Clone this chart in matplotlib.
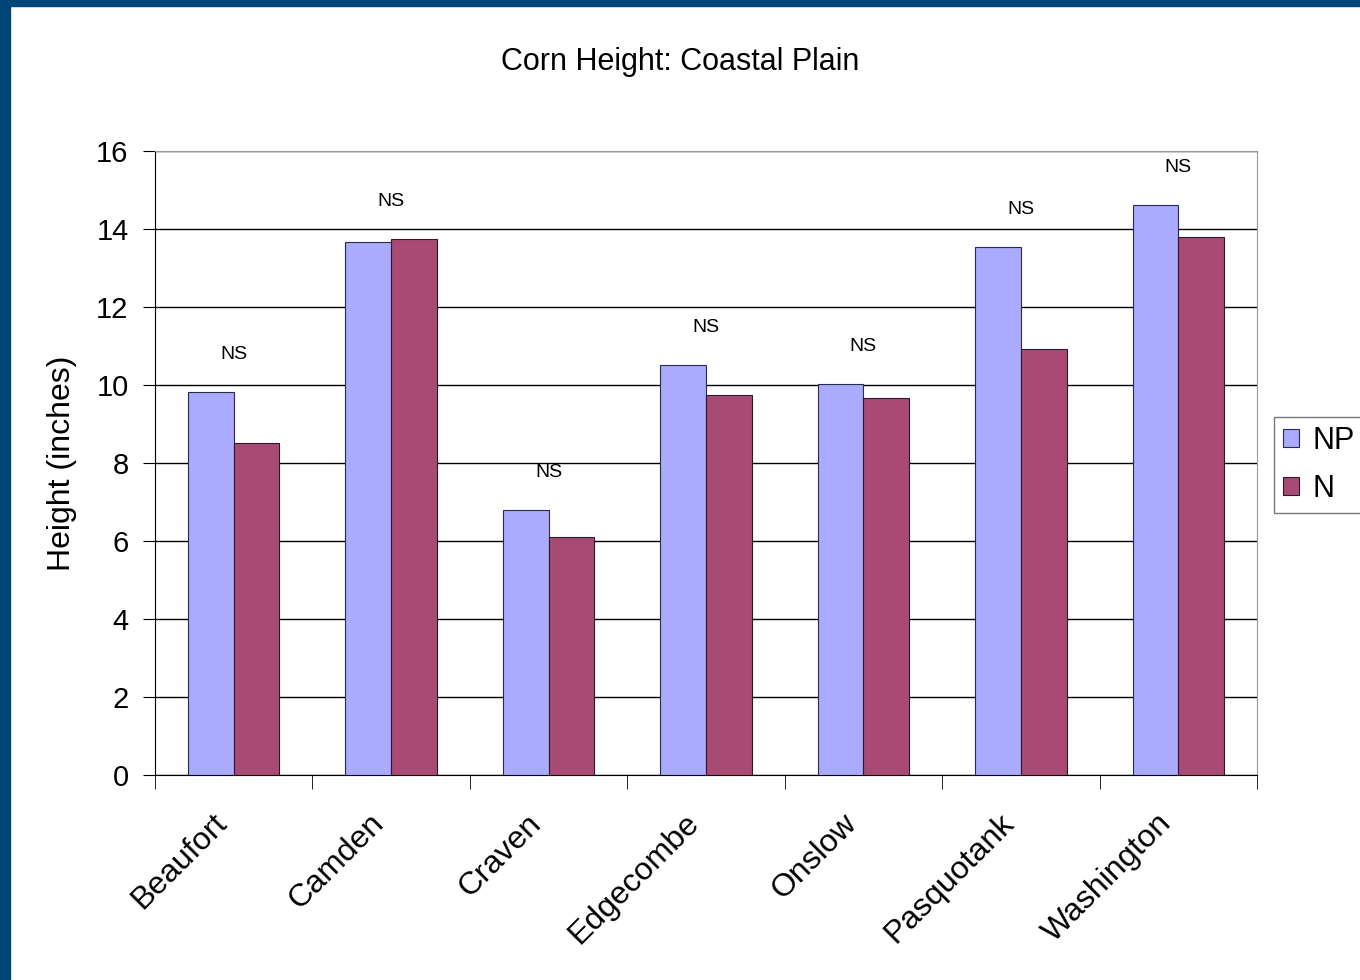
import numpy as np
import matplotlib.pyplot as plt
from matplotlib.patches import Rectangle

counties = ['Beaufort', 'Camden', 'Craven', 'Edgecombe', 'Onslow', 'Pasquotank', 'Washington']
np_height = [9.82, 13.67, 6.79, 10.51, 10.03, 13.54, 14.62]
n_height = [8.51, 13.74, 6.10, 9.74, 9.67, 10.92, 13.79]
sig = ['NS'] * 7

plt.rcParams['font.family'] = ['Liberation Sans', 'DejaVu Sans']

fig = plt.figure(figsize=(13.6, 9.8), dpi=100)
ax = fig.add_axes([155/1360, 205/980, 1102/1360, 624/980])

x = np.arange(len(counties))
w = 0.29
ax.bar(x - w/2, np_height, w, color='#aaaaff', edgecolor='#2a2a4a', linewidth=0.8, label='NP', zorder=3)
ax.bar(x + w/2, n_height, w, color='#a94a75', edgecolor='#2a1a2a', linewidth=0.8, label='N', zorder=3)

for i, s in enumerate(sig):
    top = max(np_height[i], n_height[i])
    ax.annotate(s, (x[i], top), xytext=(0, 21), textcoords='offset points',
                ha='center', va='bottom', fontsize=14)

ax.set_xlim(-0.5, len(counties) - 0.5)
ax.set_ylim(0, 16)
ax.set_yticks(range(0, 17, 2))
ax.yaxis.grid(True, color='black', linewidth=1, zorder=0)
ax.tick_params(axis='y', labelsize=21, length=9, direction='out', pad=10)

# labels sit a little left of the group centre, like the original
ax.set_xticks(x - 0.14)
ax.set_xticklabels(counties, rotation=45, ha='right', rotation_mode='anchor', fontsize=23)
ax.set_xticks(np.arange(-0.5, len(counties)), minor=True)
ax.tick_params(axis='x', which='major', length=0, pad=24)
ax.tick_params(axis='x', which='minor', length=10, direction='out')

for side in ['top', 'right']:
    ax.spines[side].set_color('#999999')
ax.spines['left'].set_color('black')
ax.spines['bottom'].set_color('black')

ax.set_ylabel('Height (inches)', fontsize=23, labelpad=14)
fig.text(0.5, 1 - 62/980, 'Corn Height: Coastal Plain', fontsize=22, ha='center', va='center')

ax.legend(loc='center left', bbox_to_anchor=((1274 - 155)/1102, 0.497), fontsize=22,
          frameon=True, fancybox=False, edgecolor='#555555', handlelength=0.55, handleheight=0.55,
          handletextpad=0.42, borderpad=0.28, labelspacing=0.6, borderaxespad=0)

fig.patches.append(Rectangle((0, 0), 10/1360, 1, transform=fig.transFigure, color='#00457a', zorder=10))
fig.patches.append(Rectangle((0, 1 - 6/980), 1, 6/980, transform=fig.transFigure, color='#00457a', zorder=10))

fig.savefig('out.png', dpi=100)
